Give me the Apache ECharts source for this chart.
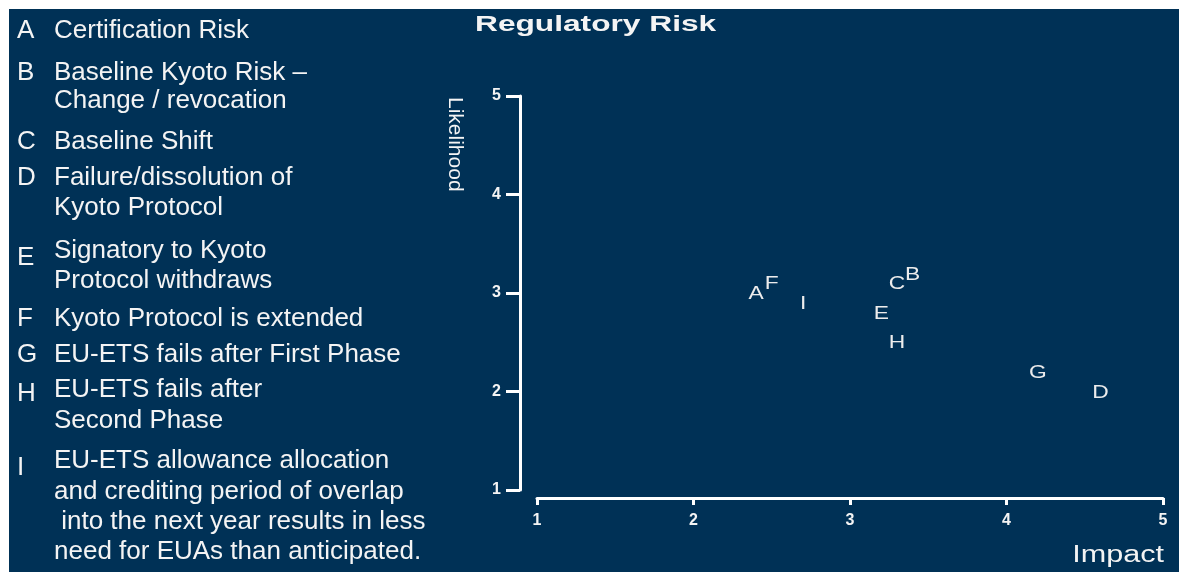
<!DOCTYPE html>
<html>
<head>
<meta charset="utf-8">
<title>Regulatory Risk</title>
<script src="https://cdn.jsdelivr.net/npm/echarts@6/dist/echarts.min.js"></script>
<style>
  html, body { margin: 0; padding: 0; background: #ffffff; }
  #chart { width: 1179px; height: 572px; }
</style>
</head>
<body>
<div id="chart"></div>
<script>
// Risk register: code letter, description lines, impact and likelihood scores
const riskCodes = ['A', 'B', 'C', 'D', 'E', 'F', 'G', 'H', 'I'];
const riskText = [
  ['Certification Risk'],
  ['Baseline Kyoto Risk \u2013', 'Change / revocation'],
  ['Baseline Shift'],
  ['Failure/dissolution of', 'Kyoto Protocol'],
  ['Signatory to Kyoto', 'Protocol withdraws'],
  ['Kyoto Protocol is extended'],
  ['EU-ETS fails after First Phase'],
  ['EU-ETS fails after', 'Second Phase'],
  ['EU-ETS allowance allocation', 'and crediting period of overlap',
   ' into the next year results in less', 'need for EUAs than anticipated.']
];
const impact     = [2.4, 3.4, 3.3, 4.6, 3.2, 2.5, 4.2, 3.3, 2.7];
const likelihood = [3.0, 3.2, 3.1, 2.0, 2.8, 3.1, 2.2, 2.5, 2.9];
const axisTicks  = [1, 2, 3, 4, 5];

const chartTitle = 'Regulatory Risk';
const xName = 'Impact';
const yName = 'Likelihood';

const NAVY = '#003156';
const INK = '#f4f4f4';
const FONT = '"Liberation Sans", Arial, Helvetica, sans-serif';

// vertical placement of the description block (centre of each text row)
const codeRowY = [31, 73, 142, 178, 258, 319, 355, 394, 468];
const textRowY = [
  [31], [73, 101], [142], [178, 208], [251, 281], [319], [355], [390, 421],
  [461, 492, 522, 552]
];

const graphics = [
  // paper edge along the top and the left
  { type: 'rect', shape: { x: 0, y: 0, width: 1179, height: 9 }, style: { fill: '#ffffff' }, z: 10 },
  { type: 'rect', shape: { x: 0, y: 0, width: 9, height: 572 }, style: { fill: '#ffffff' }, z: 10 },
  // chart heading
  {
    type: 'text', x: 475, y: 25, scaleX: 1.44,
    style: { text: chartTitle, fill: INK, font: 'bold 22px ' + FONT, textAlign: 'left', textVerticalAlign: 'middle' }
  },
  // axis names
  {
    type: 'text', x: 1164, y: 556, scaleX: 1.33,
    style: { text: xName, fill: INK, font: '23px ' + FONT, textAlign: 'right', textVerticalAlign: 'middle' }
  },
  {
    type: 'text', x: 455, y: 97, rotation: -Math.PI / 2,
    style: { text: yName, fill: INK, font: '21px ' + FONT, textAlign: 'left', textVerticalAlign: 'middle' }
  }
];

riskCodes.forEach(function (code, i) {
  graphics.push({
    type: 'text', x: 17, y: codeRowY[i],
    style: { text: code, fill: INK, font: '26px ' + FONT, textAlign: 'left', textVerticalAlign: 'middle' }
  });
  riskText[i].forEach(function (line, j) {
    graphics.push({
      type: 'text', x: 54, y: textRowY[i][j],
      style: { text: line, fill: INK, font: '26px ' + FONT, textAlign: 'left', textVerticalAlign: 'middle' }
    });
  });
});

// one row per risk: [impact, likelihood, code]
const points = riskCodes.map(function (code, i) {
  return [impact[i], likelihood[i], code];
});

const tickLabel = { color: INK, fontSize: 16, fontWeight: 'bold', fontFamily: FONT };

// each risk is drawn as its code letter, centred on its (impact, likelihood) position
function renderRiskLetter(params, api) {
  const pos = api.coord([api.value(0), api.value(1)]);
  return {
    type: 'text',
    x: pos[0],
    y: pos[1] + 1,
    scaleX: 1.2,
    style: {
      text: points[params.dataIndex][2],
      fill: '#ececec',
      font: '19px ' + FONT,
      textAlign: 'center',
      textVerticalAlign: 'middle'
    }
  };
}

const chart = echarts.init(document.getElementById('chart'), null, { renderer: 'canvas' });
chart.setOption({
  backgroundColor: NAVY,
  animation: false,
  grid: { left: 537, right: 16, top: 96, bottom: 82, containLabel: false },
  xAxis: {
    type: 'value',
    min: axisTicks[0],
    max: axisTicks[axisTicks.length - 1],
    interval: 1,
    position: 'bottom',
    offset: 8,
    splitLine: { show: false },
    axisLine: { show: true, lineStyle: { color: '#ffffff', width: 3 } },
    axisTick: { show: true, length: 7, lineStyle: { color: '#ffffff', width: 3 } },
    axisLabel: Object.assign({ margin: 15 }, tickLabel)
  },
  yAxis: {
    type: 'value',
    min: axisTicks[0],
    max: axisTicks[axisTicks.length - 1],
    interval: 1,
    position: 'left',
    offset: 17,
    splitLine: { show: false },
    axisLine: { show: true, lineStyle: { color: '#ffffff', width: 3 } },
    axisTick: { show: true, length: 14, lineStyle: { color: '#ffffff', width: 3 } },
    axisLabel: Object.assign({ margin: 19 }, tickLabel)
  },
  series: [{
    type: 'custom',
    data: points,
    encode: { x: 0, y: 1 },
    renderItem: renderRiskLetter,
    silent: true
  }],
  graphic: graphics
});
</script>
</body>
</html>
